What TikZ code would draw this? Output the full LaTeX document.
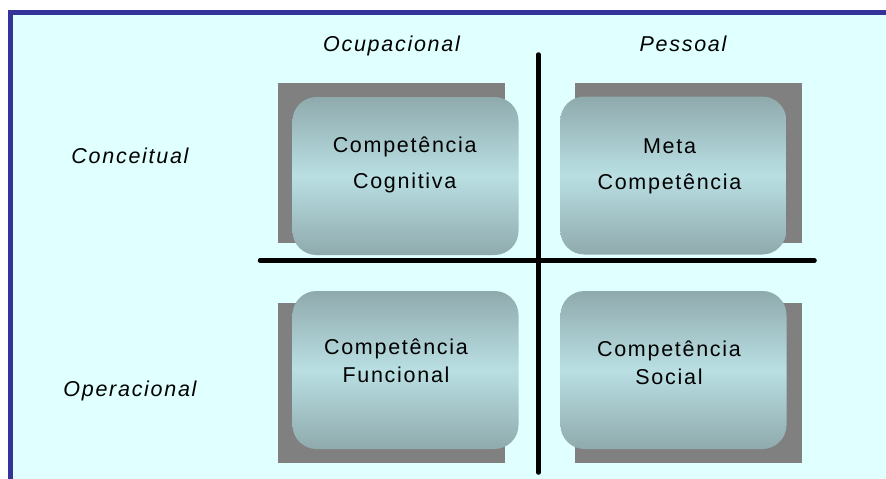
\documentclass[tikz,border=0pt]{standalone}
\usepackage{fontspec}
\setmainfont{Liberation Sans}
\usetikzlibrary{positioning}

\definecolor{framecyan}{RGB}{224,255,255}
\definecolor{frameblue}{RGB}{51,51,153}
\definecolor{boxdark}{RGB}{143,170,173}
\definecolor{boxlight}{RGB}{185,223,227}
\definecolor{shadowgray}{RGB}{128,128,128}

\begin{document}
\begin{tikzpicture}[x=1pt,y=-1pt]
	\tikzset{QuadShadow/.style={fill=shadowgray, inner sep=0pt, minimum width=227pt, minimum height=160pt}}
	\tikzset{QuadBox/.style={rounded corners=24pt, top color=boxdark, bottom color=boxdark, middle color=boxlight, inner sep=0pt, minimum width=226pt, minimum height=158pt}}
	\tikzset{AxisLabel/.style={anchor=base, inner sep=0pt, font=\fontsize{21.5}{26}\selectfont\itshape\addfontfeature{LetterSpace=8}}}
	\tikzset{BoxText/.style={align=center, anchor=base, inner sep=0pt, font=\fontsize{21.5}{#1}\selectfont\addfontfeature{LetterSpace=8}}}
	\tikzset{Axis/.style={line width=4.5pt, line cap=round}}
	% frame
	\useasboundingbox[fill=white] (0,0) rectangle (886,479);
	\fill[framecyan] (10.5,12.5) rectangle (886,479);
	\draw[frameblue, line width=4.5pt] (10.5,479) -- (10.5,12.5) -- (886,12.5);
	% shadows
	\node[QuadShadow] (cogshadow) at (391.4,162.7) {};
	\node[QuadShadow] (metashadow) at (688.5,162.7) {};
	\node[QuadShadow] (funshadow) at (391.4,383) {};
	\node[QuadShadow] (socshadow) at (688.5,383) {};
	% boxes
	\node[QuadBox] (cog) at ([shift={(14.1,13.3)}]cogshadow.center) {};
	\node[QuadBox] (meta) at ([shift={(-15.2,12.8)}]metashadow.center) {};
	\node[QuadBox] (fun) at ([shift={(14.1,-13)}]funshadow.center) {};
	\node[QuadBox] (soc) at ([shift={(-15,-13)}]socshadow.center) {};
	\node[BoxText=36] (cogtext) at ([shift={(-0.8,12)}]cog.center) {Competência\\Cognitiva};
	\node[BoxText=36] (metatext) at ([shift={(-3.8,13.5)}]meta.center) {Meta\\Competência};
	\node[BoxText=28] (funtext) at ([shift={(-9.5,12)}]fun.center) {Competência\\Funcional};
	\node[BoxText=28] (soctext) at ([shift={(-4.5,14)}]soc.center) {Competência\\Social};
	% axes
	\coordinate (vtop) at (538.5,54.5);
	\coordinate (vbot) at (538.5,472.5);
	\coordinate (hleft) at (260,260.5);
	\coordinate (hright) at (814.5,260.5);
	\draw[Axis] (vtop) -- (vbot);
	\draw[Axis] (hleft) -- (hright);
	% labels
	\node[AxisLabel] (ocup) at (391.5,51) {Ocupacional};
	\node[AxisLabel] (pess) at (683,51) {Pessoal};
	\node[AxisLabel] (conc) at (130,163) {Conceitual};
	\node[AxisLabel] (oper) at (130,396) {Operacional};
\end{tikzpicture}
\end{document}
